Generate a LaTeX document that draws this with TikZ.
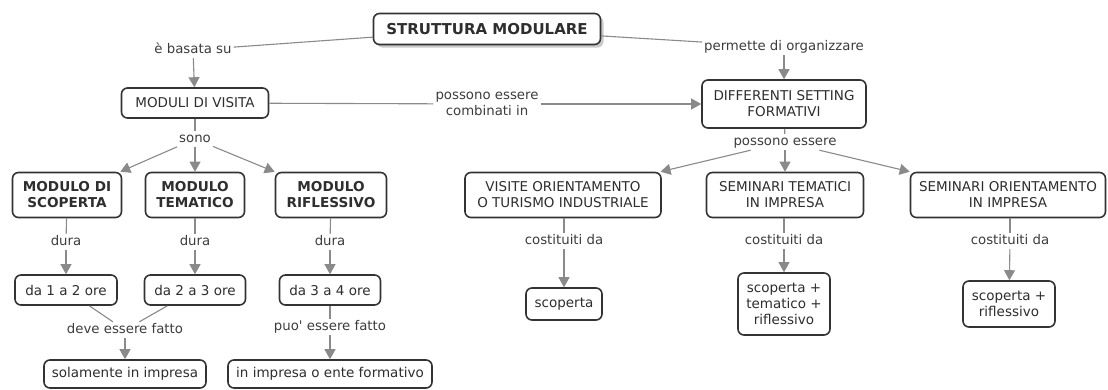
\documentclass[tikz,border=0pt]{standalone}
\usepackage{fontspec}
\setmainfont{DejaVu Sans}
\usetikzlibrary{arrows.meta,shadows}
\definecolor{boxline}{HTML}{333333}
\definecolor{txt}{HTML}{2E2E2E}
\definecolor{lbl}{HTML}{3C3C3C}
\definecolor{connc}{HTML}{8A8A8A}
\tikzset{
  x=1pt, y=-1pt,
  box/.style={draw=boxline, line width=1.6pt, rounded corners=6pt, fill=white,
    text=txt, align=center, inner sep=0pt, font=\fontsize{13.5}{16}\selectfont},
  bbox/.style={box, font=\fontsize{13.6}{16}\selectfont\bfseries},
  titlebox/.style={box, font=\fontsize{15}{17}\selectfont\bfseries,
    drop shadow={shadow xshift=3pt, shadow yshift=-3pt, fill=black!35, opacity=0.6}},
  lab/.style={text=lbl, align=center, inner sep=2pt, text height=9.5pt, text depth=2.5pt,
    font=\fontsize{13.3}{16}\selectfont},
  lab2/.style={text=lbl, align=center, inner sep=2pt, font=\fontsize{13.3}{16}\selectfont},
  conn/.style={draw=connc, line width=1.1pt},
  arr/.style={conn, -{Triangle[length=10pt,width=11pt]}}
}
\begin{document}
\begin{tikzpicture}
\useasboundingbox (0,0) rectangle (1108,389);
% boxes
\node[titlebox, minimum width=227pt, minimum height=31pt] (top) at (487,29) {STRUTTURA MODULARE};
\node[box, minimum width=147pt, minimum height=30pt] (mv) at (195,103) {MODULI DI VISITA};
\node[box, minimum width=164pt, minimum height=48pt] (dsf) at (784,104) {DIFFERENTI SETTING\\FORMATIVI};
\node[bbox, minimum width=109pt, minimum height=45pt] (scop) at (67,195) {MODULO DI\\SCOPERTA};
\node[bbox, minimum width=99pt, minimum height=45pt] (tem) at (195,195) {MODULO\\TEMATICO};
\node[bbox, minimum width=111pt, minimum height=45pt] (rif) at (331,195) {MODULO\\RIFLESSIVO};
\node[box, minimum width=102pt, minimum height=30pt] (o1) at (66,290) {da 1 a 2 ore};
\node[box, minimum width=101pt, minimum height=30pt] (o2) at (195,290) {da 2 a 3 ore};
\node[box, minimum width=101pt, minimum height=30pt] (o3) at (330,290) {da 3 a 4 ore};
\node[box, minimum width=162pt, minimum height=28pt] (sol) at (125,374) {solamente in impresa};
\node[box, minimum width=204pt, minimum height=28pt] (ente) at (330,374) {in impresa o ente formativo};
\node[box, minimum width=196pt, minimum height=45pt] (vis) at (563,195) {VISITE ORIENTAMENTO\\O TURISMO INDUSTRIALE};
\node[box, minimum width=157pt, minimum height=45pt] (semt) at (785,195) {SEMINARI TEMATICI\\IN IMPRESA};
\node[box, minimum width=195pt, minimum height=45pt] (semo) at (1008,195) {SEMINARI ORIENTAMENTO\\IN IMPRESA};
\node[box, minimum width=76pt, minimum height=32pt] (s1) at (564,304) {scoperta};
\node[box, minimum width=92pt, minimum height=62pt] (s2) at (784,304) {scoperta +\\tematico +\\riflessivo};
\node[box, minimum width=92pt, minimum height=46pt] (s3) at (1009,304) {scoperta +\\riflessivo};
% labels
\node[lab] (l1) at (193,50) {è basata su};
\node[lab] (l2) at (784,47) {permette di organizzare};
\node[lab2] (l3) at (487,104) {possono essere\\combinati in};
\node[lab] (l4) at (195,139) {sono};
\node[lab] (l5) at (785,142) {possono essere};
\node[lab] (d1) at (66,242) {dura};
\node[lab] (d2) at (195,242) {dura};
\node[lab] (d3) at (330,242) {dura};
\node[lab] (l6) at (125,330) {deve essere fatto};
\node[lab] (l7) at (330,327) {puo\textquotesingle{} essere fatto};
\node[lab] (c1) at (564,241) {costituiti da};
\node[lab] (c2) at (784,241) {costituiti da};
\node[lab] (c3) at (1010,241) {costituiti da};
% connectors
\draw[conn] (top) -- (l1);
\draw[arr] (l1) -- (mv);
\draw[conn] (top) -- (l2);
\draw[arr] (l2) -- (dsf);
\draw[conn] (mv) -- (l3);
\draw[arr] (l3) -- (dsf);
\draw[conn] (mv) -- (l4);
\draw[arr] (l4) -- (scop);
\draw[arr] (l4) -- (tem);
\draw[arr] (l4) -- (rif);
\draw[conn] (scop) -- (d1);
\draw[arr] (d1) -- (o1);
\draw[conn] (tem) -- (d2);
\draw[arr] (d2) -- (o2);
\draw[conn] (rif) -- (d3);
\draw[arr] (d3) -- (o3);
\draw[conn] (o1) -- (l6);
\draw[conn] (o2) -- (l6);
\draw[arr] (l6) -- (sol);
\draw[conn] (o3) -- (l7);
\draw[arr] (l7) -- (ente);
\draw[conn] (dsf) -- (l5);
\draw[arr] (l5) -- (vis);
\draw[arr] (l5) -- (semt);
\draw[arr] (l5) -- (semo);
\draw[conn] (vis.south -| c1) -- (c1);
\draw[arr] (c1) -- (s1);
\draw[conn] (semt.south -| c2) -- (c2);
\draw[arr] (c2) -- (s2);
\draw[conn] (semo.south -| c3) -- (c3);
\draw[arr] (c3) -- (s3);
\end{tikzpicture}
\end{document}
